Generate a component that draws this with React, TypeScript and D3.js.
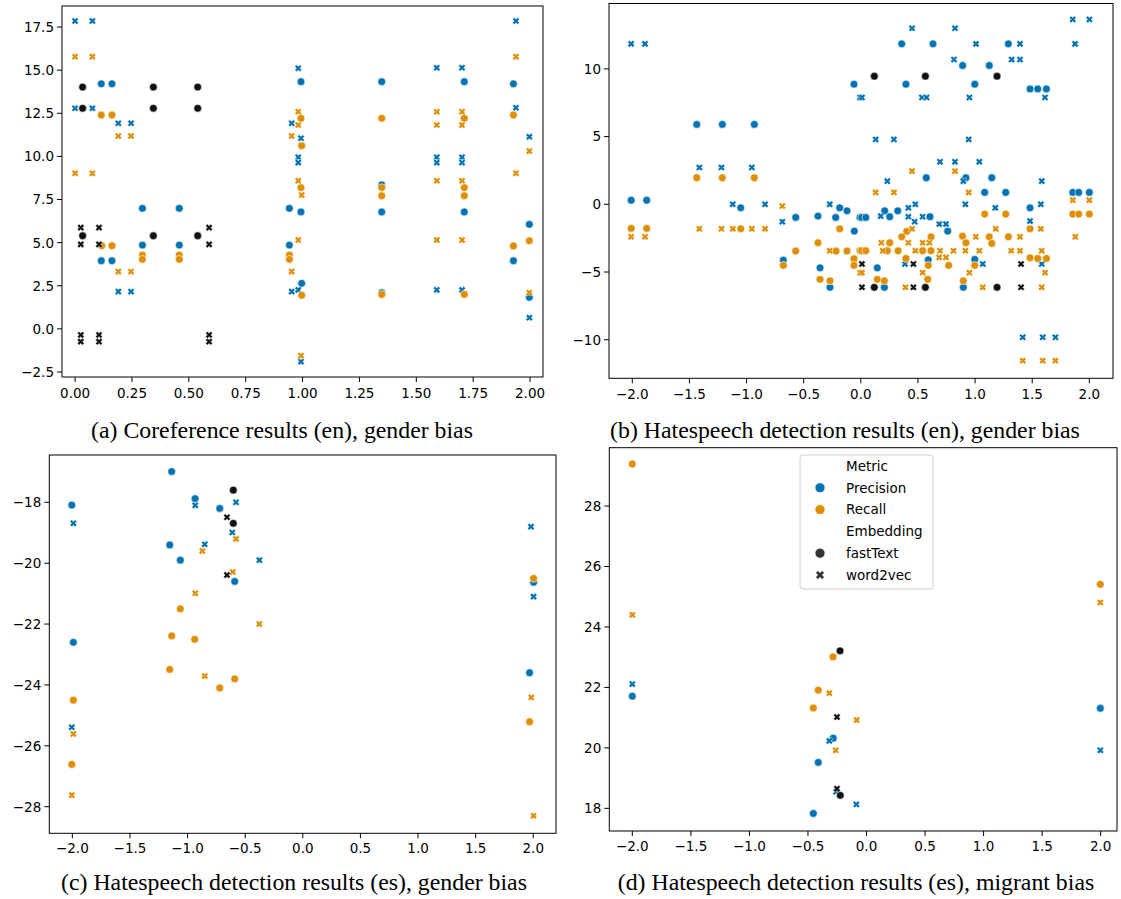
import React from "react";
import * as d3 from "d3";

type P = [number, number];

const BLUE = "#0173B2";
const ORANGE = "#DE8F05";
const BLACK = "#111111";
const LEGEND_DARK = "#333333";

// ---------- Panel (a): Coreference (en), gender bias ----------
const aPrecFast: P[] = [[0.115,14.21],[0.162,14.21],[0.993,14.33],[1.348,14.33],[1.711,14.33],[1.927,14.21],[0.296,6.99],[0.458,6.99],[0.942,6.99],[0.993,6.78],[1.348,6.78],[1.711,6.78],[1.997,6.06],[0.296,4.86],[0.458,4.86],[0.942,4.86],[1.927,3.95],[0.115,3.95],[0.162,3.95],[0.996,2.64],[1.348,2.1],[1.997,1.83],[1.348,8.35]];
const aPrecW2v: P[] = [[0,17.85],[0.076,17.85],[1.938,17.85],[0.981,15.11],[1.59,15.14],[1.701,15.14],[0,12.79],[0.076,12.79],[1.938,12.82],[0.19,11.92],[0.246,11.92],[0.952,11.92],[0.993,11.05],[1.997,11.14],[0.981,9.95],[0.981,9.64],[1.59,9.95],[1.59,9.64],[1.701,9.95],[1.701,9.64],[0.19,2.16],[0.246,2.16],[0.952,2.16],[0.981,2.26],[1.59,2.26],[1.701,2.26],[1.997,0.65],[0.993,-1.9]];
const aRecFast: P[] = [[0.115,12.4],[0.162,12.4],[0.993,12.21],[1.348,12.21],[1.711,12.21],[1.927,12.4],[0.996,10.62],[0.993,8.19],[1.348,8.19],[1.348,7.72],[1.711,8.19],[1.711,7.72],[0.117,4.82],[0.162,4.82],[0.296,4.28],[0.296,4.03],[0.458,4.28],[0.458,4.03],[0.942,4.28],[0.942,4.03],[1.997,5.11],[1.927,4.81],[0.996,1.95],[1.348,2.0],[1.711,2.0]];
const aRecW2v: P[] = [[0,15.78],[0.076,15.78],[1.938,15.78],[0.981,12.59],[1.59,12.59],[1.701,12.59],[0.981,11.82],[1.59,11.82],[1.701,11.82],[0.19,11.18],[0.246,11.18],[0.952,11.18],[1.997,10.31],[0,9.02],[0.076,9.02],[1.938,9.02],[0.981,8.59],[1.59,8.59],[1.701,8.59],[0.996,7.76],[0.981,5.15],[1.59,5.15],[1.701,5.15],[0.19,3.32],[0.246,3.32],[0.952,3.32],[1.997,2.1],[0.993,-1.55]];
const aFast: P[] = [[0.033,14.02],[0.344,14.02],[0.539,14.02],[0.033,12.79],[0.344,12.79],[0.539,12.79],[0.033,5.4],[0.344,5.4],[0.539,5.4]];
const aW2v: P[] = [[0.025,5.87],[0.105,5.87],[0.589,5.87],[0.025,4.9],[0.105,4.9],[0.589,4.9],[0.025,-0.35],[0.105,-0.35],[0.589,-0.35],[0.025,-0.74],[0.105,-0.74],[0.589,-0.74]];

// ---------- Panel (b): Hatespeech (en), gender bias ----------
const bPrecFast: P[] = [[-1.436,5.9],[-1.212,5.9],[-0.932,5.9],[-2.01,0.3],[-1.874,0.3],[-1.051,-0.26],[-0.57,-0.97],[-0.678,-4.12],[-0.375,-0.87],[-0.357,-4.69],[-0.27,-6.13],[-0.185,-0.26],[-0.22,-0.97],[-0.121,-0.48],[-0.057,-1.98],[-0.007,-0.97],[-0.06,8.87],[0.358,11.85],[0.632,11.85],[1.291,11.85],[0.891,10.25],[1.124,10.25],[0.395,8.87],[0.997,8.87],[1.481,8.52],[1.548,8.52],[1.624,8.52],[0.573,1.96],[0.92,1.96],[1.146,1.96],[1.084,0.88],[1.268,0.88],[1.855,0.88],[1.907,0.88],[2.0,0.88],[1.481,-0.26],[0.997,-4.07],[0.897,-6.13],[0.76,-1.98],[0.605,-0.92],[0.59,-4.1],[0.323,-0.48],[0.209,-0.48],[0.253,-0.92],[0.144,-4.69],[0.206,-6.13],[0.008,-0.97],[0.043,-0.97]];
const bPrecW2v: P[] = [[-2.01,11.85],[-1.889,11.85],[-0.007,7.89],[-1.413,2.72],[-1.22,2.72],[-0.954,2.72],[-1.121,0],[-0.838,0],[-0.687,-1.29],[-0.272,0],[0.448,13.0],[0.824,13.0],[1.008,11.85],[1.393,11.85],[1.875,11.85],[1.855,13.65],[2.0,13.65],[0.815,10.69],[1.32,10.69],[1.393,10.69],[0.01,7.89],[0.535,7.89],[0.575,7.89],[0.95,7.89],[1.612,7.89],[0.13,4.79],[0.29,4.79],[0.944,4.79],[0.693,3.14],[0.824,3.14],[1.037,3.14],[0.232,1.71],[0.897,1.71],[1.583,1.71],[1.177,-0.26],[1.575,0],[1.481,-1.24],[1.583,-4.41],[1.067,-4.41],[0.687,-1.46],[0.745,-1.46],[0.915,0],[0.541,-0.92],[0.471,-1.29],[0.416,-0.92],[0.477,0],[0.416,-0.26],[0.387,-4.41],[0.174,-0.87],[1.417,-9.82],[1.592,-9.82],[1.703,-9.82]];
const bRecFast: P[] = [[-1.436,1.96],[-1.212,1.96],[-0.932,1.96],[-2.01,-1.78],[-1.874,-1.78],[-1.051,-1.81],[-0.678,-4.51],[-0.57,-3.45],[-0.375,-2.84],[-0.357,-5.54],[-0.27,-5.65],[-0.185,-1.81],[-0.217,-3.45],[-0.121,-3.45],[-0.06,-4.02],[-0.06,-4.51],[-0.007,-3.43],[1.855,-0.72],[1.907,-0.72],[2.0,-0.72],[1.084,-0.72],[1.268,-0.72],[1.481,-1.81],[1.291,-2.4],[1.124,-2.4],[1.146,-2.89],[1.481,-3.95],[1.548,-4.0],[1.624,-4.0],[0.997,-4.51],[0.897,-5.65],[0.89,-2.35],[0.92,-2.84],[0.769,-4.51],[0.614,-2.4],[0.614,-3.43],[0.541,-3.43],[0.402,-2.0],[0.358,-2.4],[0.395,-4.0],[0.585,-5.54],[0.59,-4.51],[0.326,-3.43],[0.253,-2.84],[0.232,-3.43],[0.144,-5.54],[0.206,-5.65],[0.008,-3.43],[0.043,-3.43]];
const bRecW2v: P[] = [[-2.01,-2.4],[-1.889,-2.4],[-1.413,-1.81],[-1.22,-1.81],[-1.121,-1.81],[-0.954,-1.81],[-0.838,-1.81],[-0.687,-0.13],[-0.272,-3.43],[-0.007,-5.05],[0.448,2.45],[0.824,2.45],[0.13,0.88],[0.29,0.88],[0.944,0.88],[1.855,0.31],[2.0,0.31],[1.877,-2.4],[1.181,-1.81],[1.575,-1.81],[1.393,-2.4],[1.006,-2.4],[1.316,-3.43],[1.393,-3.43],[1.583,-3.43],[1.612,-5.05],[1.583,-6.13],[1.067,-6.13],[1.037,-3.43],[0.95,-5.05],[0.915,-3.43],[0.693,-3.43],[0.685,-3.92],[0.745,-3.92],[0.81,-3.43],[0.477,-3.43],[0.541,-2.84],[0.6,-2.84],[0.448,-1.81],[0.416,-2.84],[0.39,-6.13],[0.541,-5.05],[0.18,-2.84],[0.192,-3.43],[0.01,-5.05],[1.417,-11.55],[1.592,-11.55],[1.703,-11.55]];
const bFast: P[] = [[0.118,9.46],[0.565,9.46],[1.192,9.46],[0.118,-6.13],[0.565,-6.13],[1.192,-6.13]];
const bW2v: P[] = [[0.01,-4.41],[0.46,-4.41],[1.402,-4.41],[0.01,-6.13],[0.46,-6.13],[1.402,-6.13]];

// ---------- Panel (c): Hatespeech (es), gender bias ----------
const cPrecFast: P[] = [[-1.138,-16.99],[-2.005,-18.09],[-0.935,-17.88],[-0.721,-18.2],[-1.155,-19.4],[-1.063,-19.9],[-0.591,-20.6],[-1.991,-22.6],[2.003,-20.63],[1.968,-23.6]];
const cPrecW2v: P[] = [[-1.991,-18.69],[-0.933,-18.1],[-0.58,-18.0],[-0.612,-18.99],[-0.851,-19.38],[-0.377,-19.9],[-2.005,-25.39],[1.98,-18.8],[2.003,-21.1]];
const cRecFast: P[] = [[-1.063,-21.5],[-1.138,-22.39],[-0.938,-22.5],[-1.155,-23.49],[-0.591,-23.8],[-0.721,-24.1],[-1.991,-24.5],[-2.005,-26.61],[2.003,-20.5],[1.968,-25.21]];
const cRecW2v: P[] = [[-0.58,-19.2],[-0.872,-19.6],[-0.608,-20.29],[-0.933,-20.99],[-0.377,-22.0],[-0.851,-23.71],[-1.991,-25.61],[-2.005,-27.62],[1.983,-24.41],[2.003,-28.3]];
const cFast: P[] = [[-0.603,-17.6],[-0.603,-18.69]];
const cW2v: P[] = [[-0.658,-18.49],[-0.658,-20.39]];

// ---------- Panel (d): Hatespeech (es), migrant bias ----------
const dPrecFast: P[] = [[-2.0,21.71],[-0.284,20.32],[-0.412,19.52],[-0.454,17.83],[1.997,21.31]];
const dPrecW2v: P[] = [[-2.0,22.11],[-0.318,20.23],[-0.26,18.55],[-0.087,18.13],[1.997,19.92]];
const dRecFast: P[] = [[-2.0,29.39],[-0.286,23.01],[-0.412,21.91],[-0.454,21.32],[1.997,25.41]];
const dRecW2v: P[] = [[-2.0,24.4],[-0.318,21.81],[-0.084,20.92],[-0.263,19.92],[1.997,24.81]];
const dFast: P[] = [[-0.226,23.21],[-0.224,18.43]];
const dW2v: P[] = [[-0.252,21.02],[-0.252,18.65]];

// ---------- Ticks & labels ----------
const aXTicks = [0, 0.25, 0.5, 0.75, 1.0, 1.25, 1.5, 1.75, 2.0];
const aYTicks = [-2.5, 0, 2.5, 5, 7.5, 10, 12.5, 15, 17.5];
const symXTicks = [-2.0, -1.5, -1.0, -0.5, 0, 0.5, 1.0, 1.5, 2.0];
const bYTicks = [-10, -5, 0, 5, 10];
const cYTicks = [-28, -26, -24, -22, -20, -18];
const dYTicks = [18, 20, 22, 24, 26, 28];

const captions = [
  "(a) Coreference results (en), gender bias",
  "(b) Hatespeech detection results (en), gender bias",
  "(c) Hatespeech detection results (es), gender bias",
  "(d) Hatespeech detection results (es), migrant bias",
];

const legendMetric = ["Precision", "Recall"];
const legendEmbedding = ["fastText", "word2vec"];

// ---------- helpers ----------
function xPath(a: number, b: number) {
  const pts: P[] = [[b,a],[b,b],[a,b],[a,-b],[b,-b],[b,-a],[-b,-a],[-b,-b],[-a,-b],[-a,b],[-b,b],[-b,a]];
  const c = Math.SQRT1_2;
  return "M" + pts.map(([x, y]) => `${((x - y) * c).toFixed(2)},${((x + y) * c).toFixed(2)}`).join("L") + "Z";
}
const X_MARK = xPath(3.7, 1.3);
const X_LEG = xPath(4.6, 1.6);

type Series = { data: P[]; color: string; shape: "o" | "x" };

interface PanelCfg {
  frame: { l: number; r: number; t: number; b: number };
  xDomain: [number, number];
  xRange: [number, number];
  yDomain: [number, number];
  xTicks: number[];
  yTicks: number[];
  xFmt: string;
  yFmt: string;
  xLabelDy: number;
  caption: string;
  capX: number;
  capY: number;
  series: Series[];
  legend?: boolean;
}

const mk = (pf: P[], pw: P[], rf: P[], rw: P[], bf: P[], bw: P[]): Series[] => [
  { data: pf, color: BLUE, shape: "o" },
  { data: pw, color: BLUE, shape: "x" },
  { data: rf, color: ORANGE, shape: "o" },
  { data: rw, color: ORANGE, shape: "x" },
  { data: bf, color: BLACK, shape: "o" },
  { data: bw, color: BLACK, shape: "x" },
];

const panels: PanelCfg[] = [
  {
    frame: { l: 62, r: 543, t: 6, b: 377 },
    xDomain: [-0.0576, 2.057], xRange: [62, 543],
    yDomain: [-2.79, 18.72],
    xTicks: aXTicks, yTicks: aYTicks, xFmt: ".2f", yFmt: ".1f", xLabelDy: 21,
    caption: captions[0], capX: 282, capY: 438,
    series: mk(aPrecFast, aPrecW2v, aRecFast, aRecW2v, aFast, aW2v),
  },
  {
    frame: { l: 609, r: 1113, t: 3.5, b: 378.3 },
    xDomain: [-2.204, 2.207], xRange: [609, 1113],
    yDomain: [-12.85, 14.83],
    xTicks: symXTicks, yTicks: bYTicks, xFmt: ".1f", yFmt: "d", xLabelDy: 21,
    caption: captions[1], capX: 845, capY: 438,
    series: mk(bPrecFast, bPrecW2v, bRecFast, bRecW2v, bFast, bW2v),
  },
  {
    frame: { l: 49.3, r: 556, t: 455, b: 833.3 },
    xDomain: [-2.2, 2.2], xRange: [49.3, 556.3],
    yDomain: [-28.874, -16.446],
    xTicks: symXTicks, yTicks: cYTicks, xFmt: ".1f", yFmt: "d", xLabelDy: 20,
    caption: captions[2], capX: 294, capY: 890,
    series: mk(cPrecFast, cPrecW2v, cRecFast, cRecW2v, cFast, cW2v),
  },
  {
    frame: { l: 609.3, r: 1117, t: 447.7, b: 831 },
    xDomain: [-2.2, 2.2], xRange: [608.9, 1124.1],
    yDomain: [17.25, 29.93],
    xTicks: symXTicks, yTicks: dYTicks, xFmt: ".1f", yFmt: "d", xLabelDy: 20,
    caption: captions[3], capX: 856, capY: 890,
    series: mk(dPrecFast, dPrecW2v, dRecFast, dRecW2v, dFast, dW2v),
    legend: true,
  },
];

const TICK_FONT = "'DejaVu Sans', sans-serif";
const TICK_SIZE = 13.5;

function Panel({ cfg }: { cfg: PanelCfg }) {
  const { frame } = cfg;
  const x = d3.scaleLinear().domain(cfg.xDomain).range(cfg.xRange);
  const y = d3.scaleLinear().domain(cfg.yDomain).range([frame.b, frame.t]);
  const fx = d3.format(cfg.xFmt);
  const fy = d3.format(cfg.yFmt);
  const clipId = `clip-${Math.round(frame.l)}-${Math.round(frame.t)}`;
  return (
    <g>
      <defs>
        <clipPath id={clipId}>
          <rect x={frame.l} y={frame.t} width={frame.r - frame.l} height={frame.b - frame.t} />
        </clipPath>
      </defs>
      <rect x={frame.l} y={frame.t} width={frame.r - frame.l} height={frame.b - frame.t} fill="#fff" />
      <g clipPath={`url(#${clipId})`}>
        {cfg.series.map((s, si) =>
          s.data.map((d, i) =>
            s.shape === "o" ? (
              <circle key={`${si}-${i}`} cx={x(d[0])} cy={y(d[1])} r={3.9} fill={s.color} stroke="#fff" strokeWidth={0.6} />
            ) : (
              <path key={`${si}-${i}`} d={X_MARK} transform={`translate(${x(d[0])},${y(d[1])})`} fill={s.color} stroke="#fff" strokeWidth={0.5} />
            )
          )
        )}
      </g>
      <rect x={frame.l} y={frame.t} width={frame.r - frame.l} height={frame.b - frame.t} fill="none" stroke="#000" strokeWidth={1} />
      {cfg.xTicks.map((t) => (
        <g key={`xt${t}`} transform={`translate(${x(t)},${frame.b})`}>
          <line y1={0} y2={5} stroke="#000" strokeWidth={1} />
          <text y={cfg.xLabelDy} textAnchor="middle" fontFamily={TICK_FONT} fontSize={TICK_SIZE} fill="#000">{fx(t)}</text>
        </g>
      ))}
      {cfg.yTicks.map((t) => (
        <g key={`yt${t}`} transform={`translate(${frame.l},${y(t)})`}>
          <line x1={0} x2={-5} stroke="#000" strokeWidth={1} />
          <text x={-8} dy="0.36em" textAnchor="end" fontFamily={TICK_FONT} fontSize={TICK_SIZE} fill="#000">{fy(t)}</text>
        </g>
      ))}
      <text x={cfg.capX} y={cfg.capY} textAnchor="middle" fontFamily="'Liberation Serif', 'Times New Roman', serif" fontSize={23.8} fill="#000">
        {cfg.caption}
      </text>
      {cfg.legend && <Legend />}
    </g>
  );
}

function Legend() {
  const lx = 800, ly = 455, lw = 133, lh = 134;
  const rowY = (i: number) => ly + 11 + i * 21.8;
  const mx = 820, tx = 846;
  const rows: { label: string; marker?: React.ReactNode }[] = [
    { label: "Metric" },
    { label: legendMetric[0], marker: <circle r={5} fill={BLUE} stroke="#fff" strokeWidth={0.7} /> },
    { label: legendMetric[1], marker: <circle r={5} fill={ORANGE} stroke="#fff" strokeWidth={0.7} /> },
    { label: "Embedding" },
    { label: legendEmbedding[0], marker: <circle r={5} fill={LEGEND_DARK} stroke="#fff" strokeWidth={0.7} /> },
    { label: legendEmbedding[1], marker: <path d={X_LEG} fill={LEGEND_DARK} stroke="#fff" strokeWidth={0.6} /> },
  ];
  return (
    <g>
      <rect x={lx} y={ly} width={lw} height={lh} rx={3} fill="#fff" fillOpacity={0.8} stroke="#d0d0d0" strokeWidth={1} />
      {rows.map((r, i) => (
        <g key={r.label}>
          {r.marker && <g transform={`translate(${mx},${rowY(i)})`}>{r.marker}</g>}
          <text x={tx} y={rowY(i)} dy="0.36em" fontFamily={TICK_FONT} fontSize={13.5} fill="#000">{r.label}</text>
        </g>
      ))}
    </g>
  );
}

export default function App() {
  return (
    <svg width={1121} height={899} style={{ position: "absolute", left: 0, top: 0, background: "#fff" }}>
      <rect x={0} y={0} width={1121} height={899} fill="#fff" />
      {panels.map((p, i) => (
        <Panel key={i} cfg={p} />
      ))}
    </svg>
  );
}
